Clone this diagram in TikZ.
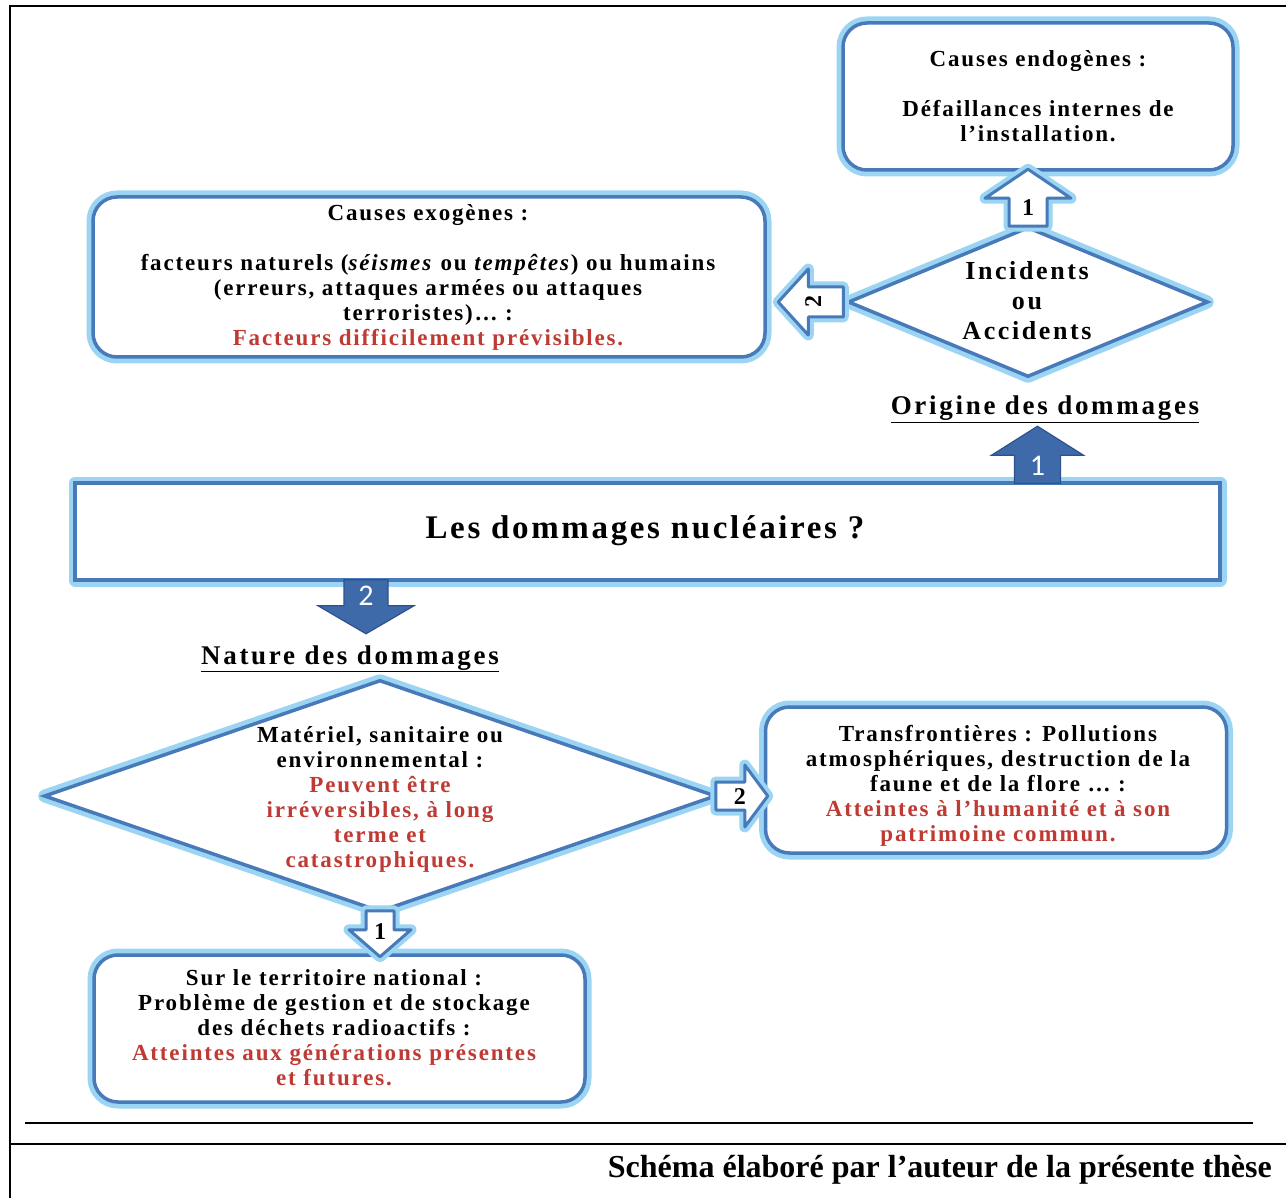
\documentclass[tikz,border=0pt]{standalone}
\usepackage{fontspec}
\setmainfont{Liberation Serif}
\newfontfamily\lsfont[LetterSpace=8]{Liberation Serif}
\newfontfamily\lswide[LetterSpace=10]{Liberation Serif}
\newfontfamily\digitfont{Carlito}
\usetikzlibrary{shapes.geometric,calc}
\definecolor{boxblue}{RGB}{72,122,186}
\definecolor{glowc}{RGB}{155,213,243}
\definecolor{redtext}{RGB}{192,58,52}
\definecolor{arrowfill}{RGB}{62,106,170}
\definecolor{arrowline}{RGB}{47,82,143}
\begin{document}
\begin{tikzpicture}[x=1pt,y=-1pt,
  glowshape/.style={draw=boxblue, line width=3.5pt, fill=white,
    preaction={draw=glowc, line width=13pt, line join=round}},
  roundbox/.style={glowshape, rectangle, rounded corners=24pt, inner sep=0pt},
  diabox/.style={glowshape, diamond, inner sep=0pt},
  boxtext/.style={font=\lsfont\bfseries\fontsize{23}{25}\selectfont, align=center, inner sep=0pt},
  diatext/.style={font=\lswide\bfseries\fontsize{26}{30}\selectfont, align=center, inner sep=0pt},
  titletext/.style={font=\lswide\bfseries\fontsize{27}{30}\selectfont, inner sep=0pt},
  outarrow/.style={draw=boxblue, line width=3pt, fill=white, line join=round,
    preaction={draw=glowc, line width=11pt, line join=round}},
  fillarrow/.style={draw=arrowline, line width=1.2pt, fill=arrowfill, line join=miter},
  odigit/.style={font=\bfseries\fontsize{24}{24}\selectfont, inner sep=0pt},
  fdigit/.style={font=\digitfont\fontsize{30}{30}\selectfont, text=white, inner sep=0pt},
  frame/.style={line width=2.5pt, black}
]
\useasboundingbox (0,0) rectangle (1286,1198);

% frame lines
\draw[frame] (10,1198) -- (10,6) -- (1286,6);
\draw[frame] (25,1123) -- (1253,1123);
\draw[frame] (10,1144) -- (1286,1144);

% boxes
\node[roundbox, minimum width=390, minimum height=147] (endo) at (1038,96.5) {};
\node[boxtext] (endotxt) at (endo) {Causes endogènes :\\[25pt]Défaillances internes de\\l’installation.};

\node[roundbox, minimum width=672, minimum height=160] (exo) at (429,277) {};
\node[boxtext] (exotxt) at (428,277.5) {Causes exogènes :\\[25pt]facteurs naturels (\textit{séismes} ou \textit{tempêtes}) ou humains\\(erreurs, attaques armées ou attaques\\terroristes)… :\\\textcolor{redtext}{Facteurs difficilement prévisibles.}};

\node[diabox, minimum width=360, minimum height=150] (dia1) at (1028,302) {};
\node[diatext] (dia1txt) at (1027,301) {Incidents\\ou\\Accidents};

\node[titletext, anchor=base] (origine) at (1045,415) {\underline{Origine des dommages}};

\node[glowshape, rectangle, minimum width=1145, minimum height=97, inner sep=0pt] (main) at (647.5,531.5) {};
\node[font=\lsfont\bfseries\fontsize{33}{36}\selectfont, inner sep=0pt] (maintxt) at (645,531) {Les dommages nucléaires ?};

\node[titletext, anchor=base] (nature) at (350,664) {\underline{Nature des dommages}};

\node[diabox, minimum width=672, minimum height=232] (dia2) at (380,796) {};
\node[boxtext] (dia2txt) at (380,799) {Matériel, sanitaire ou\\environnemental :\\\textcolor{redtext}{Peuvent être}\\\textcolor{redtext}{irréversibles, à long}\\\textcolor{redtext}{terme et}\\\textcolor{redtext}{catastrophiques.}};

\node[roundbox, minimum width=461, minimum height=146] (trans) at (996,780) {};
\node[boxtext] (transtxt) at (998,786) {Transfrontières : Pollutions\\atmosphériques, destruction de la\\faune et de la flore … :\\\textcolor{redtext}{Atteintes à l’humanité et à son}\\\textcolor{redtext}{patrimoine commun.}};

\node[roundbox, minimum width=491, minimum height=147] (terr) at (339.5,1028.5) {};
\node[boxtext] (terrtxt) at (334,1027.5) {Sur le territoire national :\\Problème de gestion et de stockage\\des déchets radioactifs :\\\textcolor{redtext}{Atteintes aux générations présentes}\\\textcolor{redtext}{et futures.}};

% outlined arrow: Incidents -> causes endogenes
\begin{scope}[shift={(dia1.north)}]
  \draw[outarrow] (-19,1) -- (-19,-27) -- (-43,-27) -- (0,-56) -- (43,-27) -- (19,-27) -- (19,1) -- cycle;
  \node[odigit] (d1) at (0,-18) {1};
\end{scope}
% outlined arrow: Incidents -> causes exogenes
\begin{scope}[shift={(dia1.west)}]
  \draw[outarrow] (-3,-15) -- (-38,-15) -- (-38,-33) -- (-68,0) -- (-38,33) -- (-38,15) -- (-3,15) -- cycle;
  \node[odigit, rotate=90] (d2) at (-33,0) {2};
\end{scope}
% filled arrow: dommages -> origine
\begin{scope}[shift={($(main.north)+(390,2)$)}]
  \draw[fillarrow] (-23,0) -- (-23,-28) -- (-46,-28) -- (0,-57) -- (46,-28) -- (23,-28) -- (23,0) -- cycle;
  \node[fdigit] (d3) at (0,-17) {1};
\end{scope}
% filled arrow: dommages -> nature
\begin{scope}[shift={($(main.south)+(-281.5,-2)$)}]
  \draw[fillarrow] (-22,0) -- (-22,26) -- (-48,26) -- (0,54) -- (48,26) -- (22,26) -- (22,0) -- cycle;
  \node[fdigit] (d4) at (0,16) {2};
\end{scope}
% outlined arrow: nature -> transfrontieres
\begin{scope}[shift={(dia2.east)}]
  \draw[outarrow] (-2,-14) -- (27,-14) -- (27,-31) -- (50,0) -- (27,31) -- (27,14) -- (-2,14) -- cycle;
  \node[odigit] (d5) at (22,1) {2};
\end{scope}
% outlined arrow: nature -> territoire
\begin{scope}[shift={(dia2.south)}]
  \draw[outarrow] (-14,-3) -- (-14,16) -- (-31,16) -- (0,43) -- (31,16) -- (14,16) -- (14,-3) -- cycle;
  \node[odigit] (d6) at (0,18) {1};
\end{scope}

\node[font=\bfseries\fontsize{32}{34}\selectfont, anchor=base east, inner sep=0pt] (caption) at (1272,1177) {Schéma élaboré par l’auteur de la présente thèse};
\end{tikzpicture}
\end{document}
